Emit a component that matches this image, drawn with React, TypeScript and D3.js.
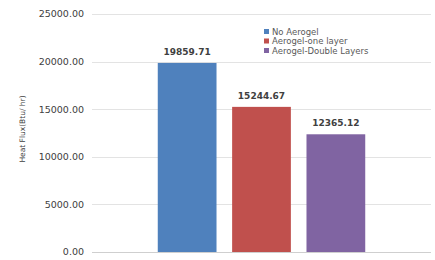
import React, { useEffect, useRef } from 'react'
import * as d3 from 'd3'

// Chart data
const categories = ['']
const seriesNames = ['No Aerogel', 'Aerogel-one layer', 'Aerogel-Double Layers']
const seriesValues = [19859.71, 15244.67, 12365.12]
const yTicks = [0, 5000, 10000, 15000, 20000, 25000]
const colors = ['#4f81bd', '#c0504d', '#8064a2']

const W = 435
const H = 260

export default function App() {
  const svgRef = useRef<SVGSVGElement>(null)

  useEffect(() => {
    const svg = d3.select(svgRef.current)
    svg.selectAll('*').remove()

    const margin = { top: 14, right: 4, bottom: 8, left: 92 }
    const plotW = W - margin.left - margin.right
    const plotH = H - margin.top - margin.bottom

    const y = d3.scaleLinear().domain([0, 25000]).range([plotH, 0])

    // one category holding a cluster of three series
    const x0 = d3.scaleBand().domain(categories).range([0, plotW])
      .paddingInner(0).paddingOuter(0.317)
    const x1 = d3.scaleBand().domain(seriesNames).range([0, x0.bandwidth()])
      .paddingInner(0.21).paddingOuter(0)

    const g = svg.append('g')
      .attr('transform', `translate(${margin.left},${margin.top})`)

    // gridlines
    g.selectAll('.grid')
      .data(yTicks)
      .enter().append('line')
      .attr('x1', 0).attr('x2', plotW)
      .attr('y1', d => Math.round(y(d)) + 0.5)
      .attr('y2', d => Math.round(y(d)) + 0.5)
      .attr('stroke', d => d === 0 ? '#cfcfcf' : '#e3e3e3')
      .attr('stroke-width', 1)

    // y tick labels
    g.selectAll('.ytick')
      .data(yTicks)
      .enter().append('text')
      .attr('x', -8)
      .attr('y', d => y(d))
      .attr('dy', '0.35em')
      .attr('text-anchor', 'end')
      .attr('font-family', 'DejaVu Sans')
      .attr('font-size', 9.5)
      .attr('fill', '#404040')
      .text(d => d3.format('.2f')(d))

    // y axis title
    svg.append('text')
      .attr('transform', `translate(25,${margin.top + plotH / 2 - 4}) rotate(-90)`)
      .attr('text-anchor', 'middle')
      .attr('font-family', 'DejaVu Sans')
      .attr('font-size', 7.5)
      .attr('fill', '#404040')
      .text('Heat Flux(Btu/ hr)')

    const cluster = g.selectAll('.cluster')
      .data(categories)
      .enter().append('g')
      .attr('transform', d => `translate(${x0(d)},0)`)

    // bars
    cluster.selectAll('rect')
      .data(seriesNames.map((s, i) => ({ s, v: seriesValues[i], c: colors[i] })))
      .enter().append('rect')
      .attr('x', d => x1(d.s)!)
      .attr('width', x1.bandwidth())
      .attr('y', d => y(d.v))
      .attr('height', d => plotH - y(d.v))
      .attr('fill', d => d.c)

    // value labels
    cluster.selectAll('.val')
      .data(seriesNames.map((s, i) => ({ s, v: seriesValues[i] })))
      .enter().append('text')
      .attr('x', d => x1(d.s)! + x1.bandwidth() / 2)
      .attr('y', d => y(d.v) - 8)
      .attr('text-anchor', 'middle')
      .attr('font-family', 'DejaVu Sans')
      .attr('font-weight', 'bold')
      .attr('font-size', 9)
      .attr('fill', '#404040')
      .text(d => d3.format('.2f')(d.v))

    // legend
    const legend = svg.append('g').attr('transform', 'translate(262,25)')
    legend.append('rect')
      .attr('x', 0).attr('y', 0).attr('width', 132).attr('height', 32)
      .attr('fill', '#fff')
    const item = legend.selectAll('.item')
      .data(seriesNames)
      .enter().append('g')
      .attr('transform', (d, i) => `translate(0,${7 + i * 9.5})`)
    item.append('rect')
      .attr('x', 2).attr('y', -3).attr('width', 5).attr('height', 5)
      .attr('fill', (d, i) => colors[i])
    item.append('text')
      .attr('x', 10)
      .attr('y', 0)
      .attr('dy', '0.35em')
      .attr('font-family', 'DejaVu Sans')
      .attr('font-size', 8.5)
      .attr('fill', '#595959')
      .text(d => d)
  }, [])

  return (
    <svg ref={svgRef} width={W} height={H}
      style={{ position: 'absolute', left: 0, top: 0, background: '#fff' }} />
  )
}
